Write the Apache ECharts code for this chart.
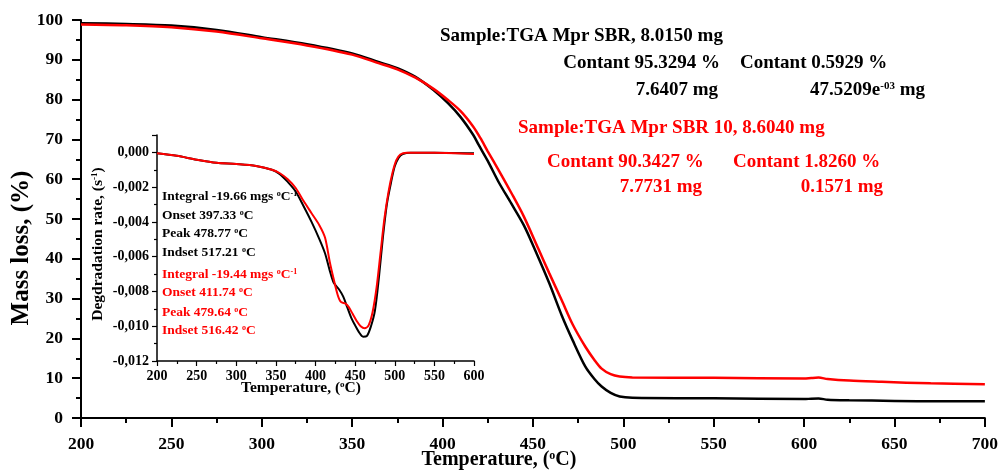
<!DOCTYPE html>
<html>
<head>
<meta charset="utf-8">
<script src="https://cdn.jsdelivr.net/npm/echarts@6/dist/echarts.min.js"></script>
<style>
  html, body { margin: 0; padding: 0; background: #fff; }
  #chart { width: 1001px; height: 473px; }
</style>
</head>
<body>
<div id="chart"></div>
<script>
// TGA curves (mass loss, %)
const tgaTempBlack = [200, 225, 250, 275, 300, 325, 350, 365, 375, 385, 395, 403, 410, 417, 420, 425, 431, 438, 445, 451, 459, 466, 472, 479, 484, 488, 493, 498, 505, 550, 600, 604, 608, 613, 625, 650, 675, 700];
const tgaMassBlack = [99.2, 99.0, 98.6, 97.5, 95.7, 93.9, 91.6, 89.4, 87.9, 85.7, 82.4, 79.1, 75.6, 71.1, 68.6, 64.6, 59.3, 53.9, 48.4, 42.4, 33.9, 25.7, 19.5, 12.9, 9.8, 7.9, 6.3, 5.4, 5.1, 4.95, 4.75, 4.85, 4.9, 4.6, 4.45, 4.3, 4.2, 4.2];

const tgaTempRed = [200, 225, 250, 275, 300, 325, 350, 365, 375, 385, 395, 403, 410, 417, 421, 425, 431, 438, 445, 453, 459, 466, 472, 479, 484, 488, 493, 498, 505, 550, 600, 604, 608, 613, 625, 643, 670, 700];
const tgaMassRed = [98.9, 98.7, 98.2, 97.1, 95.4, 93.6, 91.3, 89.1, 87.6, 85.5, 82.7, 79.9, 77.1, 73.2, 70.3, 67.0, 62.3, 56.6, 50.6, 42.5, 36.4, 29.5, 23.5, 17.9, 14.6, 12.4, 11.0, 10.4, 10.2, 10.1, 9.9, 10.05, 10.15, 9.8, 9.4, 9.1, 8.7, 8.5];

// DTG curves (degradation rate, s-1)
const dtgTempBlack = [200, 225, 250, 275, 300, 325, 345, 355, 365, 375, 385, 395, 405, 412, 418, 423, 430, 435, 440, 445, 450, 455, 460, 465, 470, 475, 480, 485, 490, 495, 500, 505, 510, 520, 550, 600];
const dtgRateBlack = [-0.00005, -0.0002, -0.00042, -0.0006, -0.00067, -0.00078, -0.001, -0.00125, -0.0017, -0.00225, -0.0031, -0.004, -0.005, -0.0058, -0.0068, -0.0075, -0.0079, -0.0083, -0.0089, -0.0095, -0.00995, -0.01035, -0.0106, -0.01055, -0.01, -0.0091, -0.0072, -0.0049, -0.003, -0.0018, -0.0008, -0.0003, -0.0001, -0.00002, -0.00002, -0.00005];

const dtgTempRed = [200, 225, 250, 275, 300, 325, 345, 355, 365, 375, 385, 395, 405, 412, 418, 423, 428, 432, 438, 442, 447, 452, 457, 462, 467, 472, 477, 482, 487, 492, 497, 502, 507, 515, 550, 600];
const dtgRateRed = [-0.00005, -0.0002, -0.00042, -0.0006, -0.00067, -0.00078, -0.001, -0.0012, -0.00155, -0.00205, -0.0028, -0.0035, -0.0042, -0.0049, -0.0063, -0.0073, -0.0082, -0.0086, -0.0087, -0.0089, -0.0093, -0.0097, -0.01, -0.01012, -0.00995, -0.0092, -0.0078, -0.0058, -0.0038, -0.0023, -0.0012, -0.00045, -0.00012, -0.00002, -0.00002, -0.0001];

const FONT = "'Liberation Serif', 'Times New Roman', serif";

function pairs(xs, ys) {
    return xs.map(function (x, i) { return [x, ys[i]]; });
}

//文字标注, {s|..} 为上标
function txt(x, y, text, color, size, align, rotation) {
    let supSize = Math.round(size * 0.6);
    return {
        type: 'text',
        x: x,
        y: y,
        rotation: rotation || 0,
        silent: true,
        style: {
            text: text,
            fill: color,
            font: 'bold ' + size + 'px ' + FONT,
            align: align || 'left',
            verticalAlign: 'middle',
            rich: {
                s: { fontFamily: FONT, fontWeight: 'bold', fontSize: supSize, fill: color, verticalAlign: 'top', padding: [0, 0, size * 0.35, 0] }
            }
        }
    };
}

let chart = echarts.init(document.getElementById('chart'), null, { renderer: 'canvas' });

let axisCommon = function (big) {
    return {
        axisLine: { show: true, onZero: false, lineStyle: { color: '#000', width: big ? 2 : 1.5 } },
        axisTick: { show: true, inside: false, length: big ? 9 : 5, lineStyle: { color: '#000', width: big ? 2 : 1.2 } },
        minorTick: { show: true, splitNumber: 2, length: big ? 5 : 3, lineStyle: { color: '#000', width: big ? 2 : 1.2 } },
        splitLine: { show: false },
        minorSplitLine: { show: false }
    };
};

let option = {
    animation: false,
    backgroundColor: '#fff',
    grid: [
        { left: 81, right: 14, top: 20, bottom: 55 },
        { left: 157, right: 527, top: 135, bottom: 112 }
    ],
    xAxis: [
        Object.assign({
            type: 'value', gridIndex: 0, min: 200, max: 700, interval: 50,
            axisLabel: { color: '#000', fontFamily: FONT, fontWeight: 'bold', fontSize: 17.5, margin: 17 }
        }, axisCommon(true)),
        Object.assign({
            type: 'value', gridIndex: 1, min: 200, max: 600, interval: 50,
            axisLabel: { color: '#000', fontFamily: FONT, fontWeight: 'bold', fontSize: 14, margin: 8 }
        }, axisCommon(false))
    ],
    yAxis: [
        Object.assign({
            type: 'value', gridIndex: 0, min: 0, max: 100, interval: 10,
            axisLabel: { color: '#000', fontFamily: FONT, fontWeight: 'bold', fontSize: 17.5, margin: 18 }
        }, axisCommon(true)),
        Object.assign({
            type: 'value', gridIndex: 1, min: -0.012, max: 0.001, interval: 0.002,
            axisLabel: {
                color: '#000', fontFamily: FONT, fontWeight: 'bold', fontSize: 14, margin: 8,
                showMaxLabel: false,
                formatter: function (v) { return (Math.abs(v) < 1e-9 ? 0 : v).toFixed(3).replace('.', ','); }
            }
        }, axisCommon(false))
    ],
    series: [
        {
            type: 'line', xAxisIndex: 0, yAxisIndex: 0, data: pairs(tgaTempBlack, tgaMassBlack),
            showSymbol: false, smooth: 0.3, lineStyle: { color: '#000', width: 2.5 }
        },
        {
            type: 'line', xAxisIndex: 0, yAxisIndex: 0, data: pairs(tgaTempRed, tgaMassRed),
            showSymbol: false, smooth: 0.3, lineStyle: { color: '#ff0000', width: 2.5 }
        },
        {
            type: 'line', xAxisIndex: 1, yAxisIndex: 1, data: pairs(dtgTempBlack, dtgRateBlack),
            showSymbol: false, smooth: 0.3, lineStyle: { color: '#000', width: 2 }
        },
        {
            type: 'line', xAxisIndex: 1, yAxisIndex: 1, data: pairs(dtgTempRed, dtgRateRed),
            showSymbol: false, smooth: 0.3, lineStyle: { color: '#ff0000', width: 2 }
        }
    ],
    graphic: [
        // axis titles
        txt(499, 460, 'Temperature, ({s|o}C)', '#000', 20, 'center'),
        txt(22, 248, 'Mass loss, (%)', '#000', 25, 'center', Math.PI / 2),
        txt(301, 388, 'Temperature, ({s|o}C)', '#000', 15.5, 'center'),
        txt(98, 244, 'Degdradation rate, (s{s|-1})', '#000', 15.5, 'center', Math.PI / 2),

        // sample annotations
        txt(440, 36, 'Sample:TGA Mpr SBR, 8.0150 mg', '#000', 19),
        txt(720, 63, 'Contant 95.3294 %', '#000', 19, 'right'),
        txt(740, 63, 'Contant 0.5929 %', '#000', 19),
        txt(718, 90, '7.6407 mg', '#000', 19, 'right'),
        txt(925, 90, '47.5209e{s|-03} mg', '#000', 19, 'right'),
        txt(518, 128, 'Sample:TGA Mpr SBR 10, 8.6040 mg', '#ff0000', 19),
        txt(547, 162, 'Contant 90.3427 %', '#ff0000', 19),
        txt(733, 162, 'Contant 1.8260 %', '#ff0000', 19),
        txt(702, 187, '7.7731 mg', '#ff0000', 19, 'right'),
        txt(883, 187, '0.1571 mg', '#ff0000', 19, 'right'),

        // inset annotations
        txt(162, 197, 'Integral -19.66 mgs {s|o}C{s|-1}', '#000', 13.5),
        txt(162, 216, 'Onset 397.33 {s|o}C', '#000', 13.5),
        txt(162, 234, 'Peak 478.77 {s|o}C', '#000', 13.5),
        txt(162, 253, 'Indset 517.21 {s|o}C', '#000', 13.5),
        txt(162, 275, 'Integral -19.44 mgs {s|o}C{s|-1}', '#ff0000', 13.5),
        txt(162, 293, 'Onset 411.74 {s|o}C', '#ff0000', 13.5),
        txt(162, 313, 'Peak 479.64 {s|o}C', '#ff0000', 13.5),
        txt(162, 331, 'Indset 516.42 {s|o}C', '#ff0000', 13.5)
    ]
};

chart.setOption(option);
</script>
</body>
</html>
